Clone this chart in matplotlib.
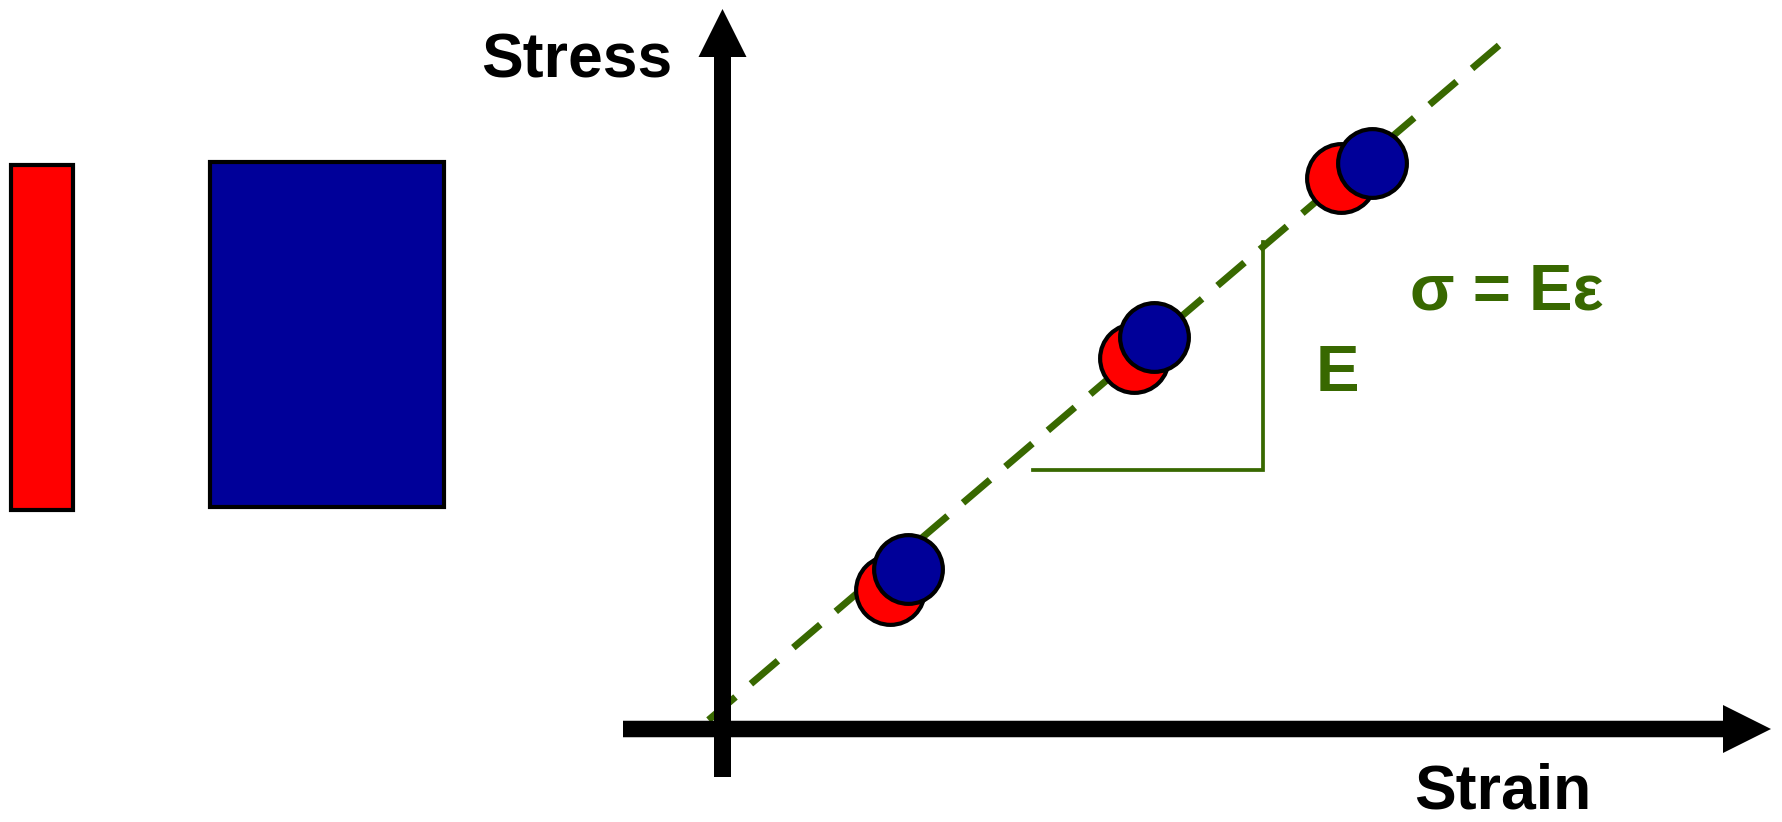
import matplotlib
matplotlib.use("Agg")
import matplotlib.pyplot as plt
from matplotlib.patches import Rectangle, FancyArrow

# --- specimen cross-sections (pixel units of the left panel) ---
specimen_labels = ["thin", "wide"]
specimen_colors = ["#ff0000", "#000099"]
specimen_left = [11, 210]
specimen_top = [165, 162]
specimen_width = [62, 234]
specimen_height = [345, 345]

# --- stress-strain measurements (strain, stress) ---
strain_thin = [1.675, 4.115, 6.185]
stress_thin = [1.39, 3.71, 5.505]
strain_wide = [1.855, 4.315, 6.495]
stress_wide = [1.60, 3.915, 5.66]

# linear fit through the points
fit_strain = [-0.14, 7.77]
fit_stress = [0.09, 6.84]

# slope triangle
tri_strain = [3.105, 5.405, 5.405]
tri_stress = [2.59, 2.59, 4.87]

GREEN = "#386800"
FONT = "Liberation Sans"

W, H = 1783, 822
fig = plt.figure(figsize=(W / 100, H / 100), dpi=100)
fig.patch.set_facecolor("white")

# left panel: specimens
ax_s = fig.add_axes([0, 0, 460 / W, 1])
ax_s.set_xlim(0, 460)
ax_s.set_ylim(H, 0)
ax_s.axis("off")
for x, t, w, h, c in zip(specimen_left, specimen_top, specimen_width,
                         specimen_height, specimen_colors):
    ax_s.add_patch(Rectangle((x, t), w, h, facecolor=c, edgecolor="black",
                             linewidth=3.0))

# stress-strain diagram
x0, x1 = 623, 1771
y0, y1 = 777, 9
ax = fig.add_axes([x0 / W, (H - y0) / H, (x1 - x0) / W, (y0 - y1) / H])
ax.set_xlim((x0 - 722.5) / 100, (x1 - 722.5) / 100)
ax.set_ylim((729 - y0) / 100, (729 - y1) / 100)
ax.axis("off")

xmin, xmax = ax.get_xlim()
ymin, ymax = ax.get_ylim()

# fitted line (dashed)
ax.plot(fit_strain, fit_stress, color=GREEN, lw=5.0,
        dashes=(5.11, 2.92), solid_capstyle="butt", dash_capstyle="butt",
        zorder=1)

# slope triangle
ax.plot(tri_strain, tri_stress, color=GREEN, lw=2.7, zorder=1,
        solid_joinstyle="miter")

# axes arrows
ax.add_patch(FancyArrow(xmin, 0, xmax - xmin, 0, width=0.165,
                        head_width=0.48, head_length=0.48,
                        length_includes_head=True, color="black", lw=0,
                        zorder=3))
ax.add_patch(FancyArrow(0, ymin, 0, ymax - ymin, width=0.17,
                        head_width=0.48, head_length=0.48,
                        length_includes_head=True, color="black", lw=0,
                        zorder=3))

# data points: each thin specimen point, then the wide one on top
for sx, sy, wx, wy in zip(strain_thin, stress_thin, strain_wide, stress_wide):
    ax.plot([sx], [sy], "o", ms=49.5, mfc=specimen_colors[0], mec="black",
            mew=3.0, zorder=4)
    ax.plot([wx], [wy], "o", ms=49.5, mfc=specimen_colors[1], mec="black",
            mew=3.0, zorder=4)

# labels
ax.text(-0.50, 6.51, "Stress", ha="right", va="baseline", fontsize=45,
        fontweight="bold", family=FONT, color="black", clip_on=False)
ax.text(7.80, -0.79, "Strain", ha="center", va="baseline", fontsize=45,
        fontweight="bold", family=FONT, color="black", clip_on=False)
ax.text(5.935, 3.38, "E", ha="left", va="baseline", fontsize=47,
        fontweight="bold", family=FONT, color=GREEN)
ax.text(7.845, 4.19, "σ = Eε", ha="center", va="baseline", fontsize=47,
        fontweight="bold", family=[FONT, "DejaVu Sans"], color=GREEN)

fig.savefig("out.png", dpi=100, facecolor="white")
